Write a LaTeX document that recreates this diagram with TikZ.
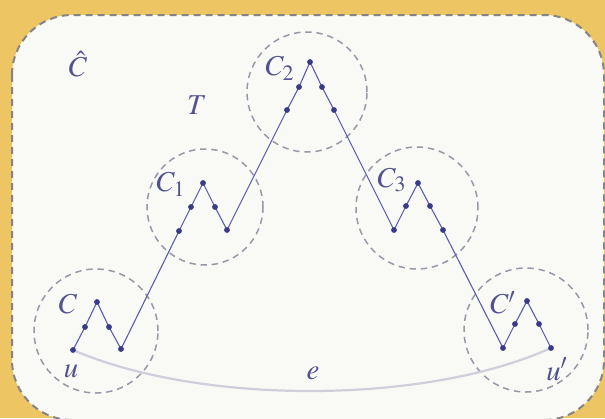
\documentclass[tikz,border=0pt]{standalone}
\usepackage{mathptmx}
\definecolor{bgyellow}{HTML}{EDC562}
\definecolor{panelc}{HTML}{F9F9F6}
\definecolor{pborder}{HTML}{858585}
\definecolor{ringc}{HTML}{9898A8}
\definecolor{pathc}{HTML}{5C5CB0}
\definecolor{dotc}{HTML}{3A3A88}
\definecolor{labc}{HTML}{525290}
\definecolor{arcc}{HTML}{CFCFDC}
\begin{document}
\begin{tikzpicture}[x=0.5pt,y=-0.5pt,
  dotn/.style={circle,fill=dotc,inner sep=0pt,minimum size=2.9pt},
  ringn/.style={circle,draw=ringc,line width=0.75pt,dash pattern=on 3.2pt off 2.4pt,inner sep=0pt,minimum size=#1},
  lbl/.style={text=labc,font=\fontsize{14.4}{16}\selectfont,inner sep=0pt},
  edgeline/.style={draw=pathc,line width=0.55pt,line join=round}]
\useasboundingbox (0,0) rectangle (605,418);
\fill[bgyellow] (0,0) rectangle (605,418);
\begin{scope}
  \clip (0,0) rectangle (605,418);
  \draw[pborder,fill=panelc,line width=1pt,dash pattern=on 3.5pt off 2.5pt,rounded corners=30pt] (12,15) rectangle (604,420);
\end{scope}
% cluster rings
\node[ringn=62pt] (r0) at (96,331) {};
\node[ringn=58pt] (r1) at (205,207) {};
\node[ringn=60pt] (r2) at (307,92) {};
\node[ringn=61pt] (r3) at (417,208) {};
\node[ringn=62pt] (r4) at (526,330) {};
% path vertices
\coordinate (a1) at (73,350);  \coordinate (a2) at (85,327);  \coordinate (a3) at (97,302);  \coordinate (a4) at (109,327); \coordinate (a5) at (121,349);
\coordinate (b1) at (179,231); \coordinate (b2) at (191,207); \coordinate (b3) at (203,183); \coordinate (b4) at (215,207); \coordinate (b5) at (227,230);
\coordinate (c1) at (287,110); \coordinate (c2) at (299,87);  \coordinate (c3) at (310,62);  \coordinate (c4) at (322,87);  \coordinate (c5) at (334,110);
\coordinate (d1) at (394,230); \coordinate (d2) at (406,206); \coordinate (d3) at (418,183); \coordinate (d4) at (430,206); \coordinate (d5) at (443,230);
\coordinate (e1) at (503,348); \coordinate (e2) at (515,324); \coordinate (e3) at (527,301); \coordinate (e4) at (539,324); \coordinate (e5) at (551,348);
% edge e
\draw[arcc,line width=1.1pt] (a1) .. controls (200,405) and (425,405) .. (e5);
% tree path T
\draw[edgeline] (a1) -- (a2) -- (a3) -- (a4) -- (a5) -- (b1) -- (b2) -- (b3) -- (b4) -- (b5)
  -- (c1) -- (c2) -- (c3) -- (c4) -- (c5) -- (d1) -- (d2) -- (d3) -- (d4) -- (d5)
  -- (e1) -- (e2) -- (e3) -- (e4) -- (e5);
\foreach \p in {a1,a2,a3,a4,a5,b1,b2,b3,b4,b5,c1,c2,c3,c4,c5,d1,d2,d3,d4,d5,e1,e2,e3,e4,e5}
  \node[dotn] (\p d) at (\p) {};
% labels
\node[lbl] (lChat) at (78,64) {$\hat{C}$};
\node[lbl] (lT) at (197,105) {$T$};
\node[lbl] (lC) at (68,304) {$C$};
\node[lbl] (lC1) at (171,184) {$C_1$};
\node[lbl] (lC2) at (280,68) {$C_2$};
\node[lbl] (lC3) at (392,180) {$C_3$};
\node[lbl] (lCp) at (503,303) {$C'$};
\node[lbl] (lu) at (71,371) {$u$};
\node[lbl] (lup) at (557,369) {$u'$};
\node[lbl] (le) at (313,373) {$e$};
\end{tikzpicture}
\end{document}
